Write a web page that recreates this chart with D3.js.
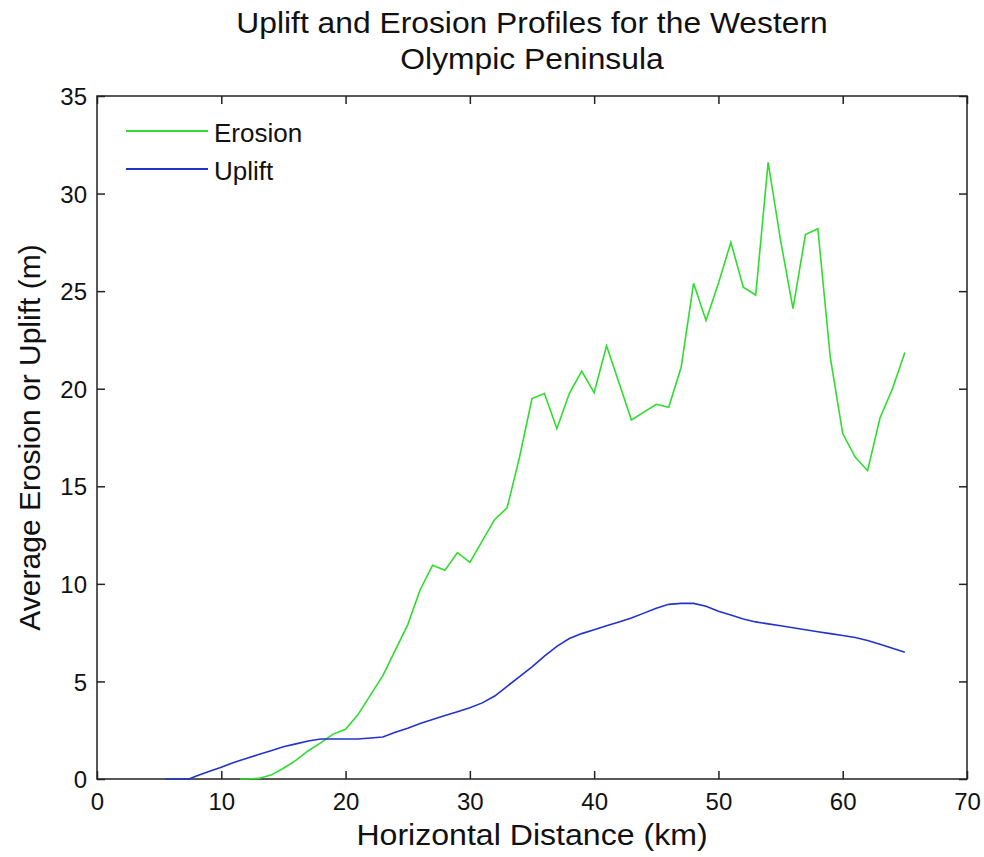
<!DOCTYPE html>
<html>
<head>
<meta charset="utf-8">
<script src="https://cdn.jsdelivr.net/npm/d3@7"></script>
<style>
  html, body { margin: 0; padding: 0; background: #fff; }
  text { font-family: "Liberation Sans", Arial, sans-serif; fill: #111; }
</style>
</head>
<body>
<svg id="chart" width="984" height="857"></svg>
<script>
// Horizontal distance (km) and mean erosion (m)
const erosionX = [11.5, 12, 13, 14, 15, 16, 17, 18, 19, 20, 21, 22, 23, 24, 25, 26, 27, 28, 29, 30,
  31, 32, 33, 34, 35, 36, 37, 38, 39, 40, 41, 42, 43, 44, 45, 46, 47, 48, 49, 50,
  51, 52, 53, 54, 55, 56, 57, 58, 59, 60, 61, 62, 63, 64, 65];
const erosionY = [0, 0, 0.03, 0.2, 0.55, 0.95, 1.45, 1.85, 2.3, 2.55, 3.3, 4.3, 5.3, 6.6, 7.9, 9.7, 10.95, 10.7, 11.6, 11.1,
  12.2, 13.3, 13.9, 16.5, 19.5, 19.75, 17.95, 19.75, 20.9, 19.8, 22.2, 20.3, 18.4, 18.8, 19.2, 19.05, 21.1, 25.4, 23.5, 25.4,
  27.5, 25.2, 24.8, 31.6, 27.6, 24.1, 27.9, 28.2, 21.6, 17.7, 16.5, 15.8, 18.5, 20.0, 21.85];

// Horizontal distance (km) and mean uplift (m)
const upliftX = [5.5, 6, 7, 7.4, 8, 9, 10, 11, 12, 13, 14, 15, 16, 17, 18, 19, 20, 21, 22, 23, 24, 25,
  26, 27, 28, 29, 30, 31, 32, 33, 34, 35, 36, 37, 38, 39, 40, 41, 42, 43, 44, 45,
  46, 47, 48, 49, 50, 51, 52, 53, 54, 55, 56, 57, 58, 59, 60, 61, 62, 63, 64, 65];
const upliftY = [0, 0, 0, 0, 0.15, 0.38, 0.6, 0.85, 1.05, 1.25, 1.45, 1.65, 1.8, 1.95, 2.05, 2.05, 2.05, 2.05, 2.1, 2.15, 2.4, 2.6,
  2.85, 3.05, 3.25, 3.45, 3.65, 3.9, 4.25, 4.75, 5.25, 5.75, 6.3, 6.8, 7.2, 7.45, 7.65, 7.85, 8.05, 8.25, 8.5, 8.75,
  8.95, 9.0, 9.0, 8.85, 8.6, 8.4, 8.2, 8.05, 7.95, 7.85, 7.75, 7.65, 7.55, 7.45, 7.35, 7.25, 7.1, 6.9, 6.7, 6.5];

const xTicks = [0, 10, 20, 30, 40, 50, 60, 70];
const yTicks = [0, 5, 10, 15, 20, 25, 30, 35];

const titleLines = ["Uplift and Erosion Profiles for the Western", "Olympic Peninsula"];
const xLabel = "Horizontal Distance (km)";
const yLabel = "Average Erosion or Uplift (m)";
const legendItems = [
  { name: "Erosion", color: "#2edd2e" },
  { name: "Uplift", color: "#2233cc" }
];

(function draw() {
  const svg = d3.select("#chart");
  const plotL = 97, plotR = 967, plotT = 96, plotB = 779;

  const x = d3.scaleLinear().domain([0, 70]).range([plotL, plotR]);
  const y = d3.scaleLinear().domain([0, 35]).range([plotB, plotT]);

  const tickLen = 8;
  const axisColor = "#222";

  // Axes with inward ticks on all four sides (boxed frame)
  const gx = svg.append("g").attr("transform", `translate(0,${plotB})`)
    .call(d3.axisBottom(x).tickValues(xTicks).tickSizeInner(-tickLen).tickSizeOuter(0).tickPadding(14));
  const gxt = svg.append("g").attr("transform", `translate(0,${plotT})`)
    .call(d3.axisTop(x).tickValues(xTicks).tickSizeInner(-tickLen).tickSizeOuter(0).tickFormat(""));
  const gy = svg.append("g").attr("transform", `translate(${plotL},0)`)
    .call(d3.axisLeft(y).tickValues(yTicks).tickSizeInner(-tickLen).tickSizeOuter(0).tickPadding(10));
  const gyr = svg.append("g").attr("transform", `translate(${plotR},0)`)
    .call(d3.axisRight(y).tickValues(yTicks).tickSizeInner(-tickLen).tickSizeOuter(0).tickFormat(""));

  [gx, gxt, gy, gyr].forEach(g => {
    g.select(".domain").remove();
    g.selectAll(".tick line").attr("stroke", axisColor).attr("stroke-width", 1.5);
    g.selectAll(".tick text").attr("font-size", 24).attr("fill", "#222")
      .style("font-family", "'Liberation Sans', Arial, sans-serif");
  });
  gy.selectAll(".tick text").attr("dy", "0.36em");

  // frame
  svg.append("rect").attr("x", plotL).attr("y", plotT)
    .attr("width", plotR - plotL).attr("height", plotB - plotT)
    .attr("fill", "none").attr("stroke", axisColor).attr("stroke-width", 1.5);

  // data lines
  const line = d3.line().x(d => x(d[0])).y(d => y(d[1]));
  svg.append("path").datum(erosionX.map((v, i) => [v, erosionY[i]]))
    .attr("d", line).attr("fill", "none").attr("stroke", legendItems[0].color).attr("stroke-width", 1.6);
  svg.append("path").datum(upliftX.map((v, i) => [v, upliftY[i]]))
    .attr("d", line).attr("fill", "none").attr("stroke", legendItems[1].color).attr("stroke-width", 1.6);

  // legend
  const leg = svg.append("g");
  legendItems.forEach((d, i) => {
    const ly = 131 + i * 38;
    leg.append("line").attr("x1", 126).attr("x2", 208).attr("y1", ly).attr("y2", ly)
      .attr("stroke", d.color).attr("stroke-width", 1.8);
    leg.append("text").attr("x", 214).attr("y", ly + 11).attr("font-size", 26).text(d.name);
  });

  // titles (slightly widened glyphs)
  const cx = 532;
  svg.append("g").selectAll("text").data(titleLines).join("text")
    .attr("transform", (d, i) => `translate(${cx},${33 + i * 36}) scale(1.06,1)`)
    .attr("text-anchor", "middle").attr("font-size", 30).text(d => d);

  svg.append("text").attr("transform", `translate(${cx},845) scale(1.07,1)`)
    .attr("text-anchor", "middle").attr("font-size", 30).text(xLabel);

  svg.append("text").attr("transform", `translate(40,${(plotT + plotB) / 2}) rotate(-90)`)
    .attr("text-anchor", "middle").attr("font-size", 30).text(yLabel);
})();
</script>
</body>
</html>
